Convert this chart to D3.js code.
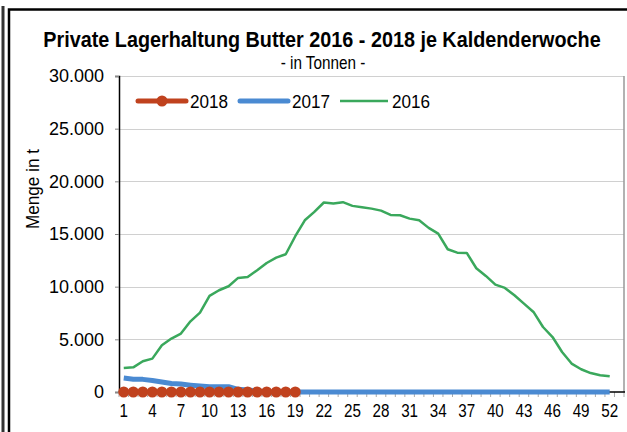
<!DOCTYPE html>
<html><head><meta charset="utf-8">
<script src="https://cdn.jsdelivr.net/npm/d3@7"></script>
<style>body{margin:0;background:#fff}svg{display:block}</style>
</head><body>
<svg id="c" width="627" height="432"></svg>
<script>
const weeks = d3.range(1, 54); // 53 category slots on the axis
const tickLabels = d3.range(1, 53, 3);
const yTicks = [0, 5000, 10000, 15000, 20000, 25000, 30000];
const s2018 = [0,0,0,0,0,0,0,0,0,0,0,0,0,0,0,0,0,0,0];
const s2017 = [1330,1220,1200,1100,950,800,750,650,570,500,500,500,250,180,100,30,0,0,0,0,0,0,0,0,0,0,0,0,0,0,0,0,0,0,0,0,0,0,0,0,0,0,0,0,0,0,0,0,0,0,0,0];
const s2016 = [2280,2340,2915,3170,4435,5070,5545,6710,7540,9120,9660,10040,10830,10920,11560,12250,12760,13080,14790,16300,17100,17990,17890,18020,17670,17540,17410,17220,16810,16780,16460,16300,15580,15040,13550,13230,13200,11750,11020,10200,9880,9180,8390,7600,6170,5220,3800,2700,2160,1800,1590,1490];
const seriesNames = ["2018","2017","2016"];
const colors = {"2018":"#C0421E","2017":"#4A8AD2","2016":"#3AA85C"};

const svg = d3.select("#c");
const L = 119, R = 624, T = 76, B = 392;
const x = d3.scaleBand().domain(weeks).range([L, R]);
const y = d3.scaleLinear().domain([0, 30000]).range([B, T]);
const fmt = v => d3.format(",")(v).replace(/,/g, ".");
const sans = "'Liberation Sans',Arial,sans-serif";

// frames
svg.append("line").attr("x1",3).attr("x2",3).attr("y1",6).attr("y2",432).attr("stroke","#333").attr("stroke-width",3);
svg.append("rect").attr("x",9).attr("y",9.5).attr("width",640).attr("height",440).attr("fill","none").attr("stroke","#000").attr("stroke-width",2.5);

// gridlines
svg.append("g").selectAll("line").data(yTicks.filter(d=>d>0)).join("line")
  .attr("x1",L).attr("x2",R).attr("y1",d=>Math.round(y(d))+0.5).attr("y2",d=>Math.round(y(d))+0.5)
  .attr("stroke","#d0d0d0").attr("stroke-width",1.2);
// right border
svg.append("line").attr("x1",R).attr("x2",R).attr("y1",T).attr("y2",B).attr("stroke","#999").attr("stroke-width",1.5);

// y axis
const ya = svg.append("g").attr("transform",`translate(${L},0)`)
  .call(d3.axisLeft(y).tickValues(yTicks).tickFormat(fmt).tickSize(4).tickPadding(11));
ya.select(".domain").attr("stroke","#000").attr("stroke-width",1.5);
ya.selectAll(".tick line").attr("stroke","#888");
ya.selectAll("text").attr("font-family",sans).attr("font-size",18).attr("fill","#000");

// x axis
const xa = svg.append("g").attr("transform",`translate(0,${B})`)
  .call(d3.axisBottom(x).tickValues(tickLabels).tickSize(0).tickPadding(12));
xa.select(".domain").remove();
xa.selectAll("text").attr("font-family",sans).attr("font-size",19).attr("fill","#000")
  .attr("transform","scale(0.8,1)");
// tick marks between categories
svg.append("g").selectAll("line").data(weeks.concat([54])).join("line")
  .attr("x1",d=>d<=53?x(d):R).attr("x2",d=>d<=53?x(d):R)
  .attr("y1",B).attr("y2",B+5).attr("stroke","#aaa").attr("stroke-width",1);
svg.append("line").attr("x1",L).attr("x2",R+1).attr("y1",B).attr("y2",B).attr("stroke","#000").attr("stroke-width",1.5);

const cx = i => x(i+1) + x.bandwidth()/2;
const line = d3.line().x((d,i)=>cx(i)).y(d=>y(d));

svg.append("path").datum(s2016).attr("d",line).attr("fill","none").attr("stroke",colors["2016"]).attr("stroke-width",2.5).attr("stroke-linejoin","round");
svg.append("path").datum(s2017).attr("d",line).attr("fill","none").attr("stroke",colors["2017"]).attr("stroke-width",5).attr("stroke-linejoin","round");
svg.append("path").datum(s2018).attr("d",line).attr("fill","none").attr("stroke",colors["2018"]).attr("stroke-width",4);
svg.append("g").selectAll("circle").data(s2018).join("circle")
  .attr("cx",(d,i)=>cx(i)).attr("cy",d=>y(d)).attr("r",5.5).attr("fill",colors["2018"]);

// titles
svg.append("text").attr("transform","translate(322,47) scale(0.9,1)").attr("text-anchor","middle")
  .attr("font-family",sans).attr("font-weight","bold").attr("font-size",22).attr("fill","#000")
  .text("Private Lagerhaltung Butter 2016 - 2018 je Kaldenderwoche");
svg.append("text").attr("transform","translate(323,69) scale(0.85,1)").attr("text-anchor","middle")
  .attr("font-family",sans).attr("font-size",18).attr("fill","#000").text("- in Tonnen -");
svg.append("text").attr("transform","translate(39,189) rotate(-90) scale(0.95,1)").attr("text-anchor","middle")
  .attr("font-family",sans).attr("font-size",18).attr("fill","#000").text("Menge in t");

// legend
const leg = [{n:"2018",x:138},{n:"2017",x:240},{n:"2016",x:340}];
const lg = svg.append("g");
leg.forEach(l=>{
  const w = l.n==="2016"?2.5:5;
  lg.append("line").attr("x1",l.x).attr("x2",l.x+48).attr("y1",101).attr("y2",101).attr("stroke",colors[l.n]).attr("stroke-width",w).attr("stroke-linecap",l.n==="2016"?"butt":"round");
  if(l.n==="2018") lg.append("circle").attr("cx",l.x+24).attr("cy",101).attr("r",5.5).attr("fill",colors[l.n]);
  lg.append("text").attr("transform",`translate(${l.x+52},108) scale(0.9,1)`).attr("font-family",sans).attr("font-size",19).attr("fill","#000").text(l.n);
});
</script>
</body></html>
